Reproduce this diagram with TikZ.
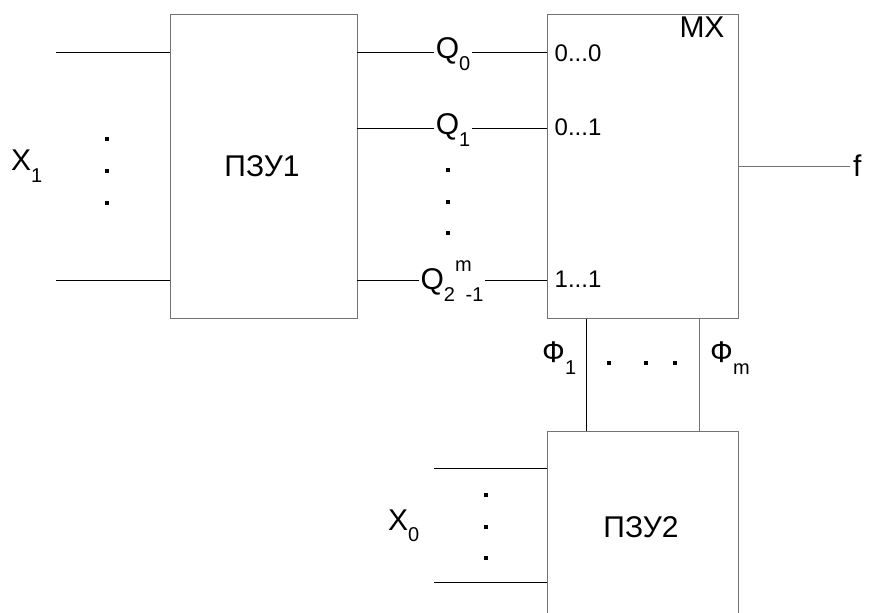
\documentclass[tikz,border=0pt]{standalone}
\usepackage{fontspec}
\setmainfont{Liberation Sans}
\newcommand{\bigf}{\fontsize{30}{32}\selectfont}
\newcommand{\midf}{\fontsize{24}{26}\selectfont}
\newcommand{\subf}{\fontsize{20}{22}\selectfont}
\newcommand{\sbs}[1]{\raisebox{-11.5pt}{\subf #1}}
\newcommand{\sps}[1]{\raisebox{18pt}{\subf #1}}
\begin{document}
\begin{tikzpicture}[x=1pt,y=-1pt,
  blockbox/.style={draw=black!55,line width=1pt,minimum width=#1,inner sep=0pt},
  wire/.style={draw=black,line width=1pt},
  lbl/.style={inner sep=1pt,font=\bigf},
  qlbl/.style={fill=white,inner sep=2pt,font=\bigf},
  dotmark/.style={fill=black,inner sep=0pt,minimum size=3.2pt}]
\useasboundingbox (0,0) rectangle (870,613);
\clip (0,0) rectangle (870,613);
% blocks
\node[blockbox=187pt,minimum height=304pt] (pz1) at (263.5,166) {};
\node[lbl] (pz1t) at (262,166) {ПЗУ1};
\node[blockbox=191pt,minimum height=304pt] (mx) at (642.5,166) {};
\node[blockbox=191pt,minimum height=200pt] (pz2) at (642.5,531) {};
\node[lbl] (pz2t) at (641,527) {ПЗУ2};
\node[lbl] (mxt) at (702,27) {MX};
% inputs of PZU1
\coordinate (a1) at (56,52);
\coordinate (a2) at (56,280);
\draw[wire] (a1) -- (a1 -| pz1.west);
\draw[wire] (a2) -- (a2 -| pz1.west);
\node[lbl,anchor=west] (x1) at (10,166) {X\sbs{1}};
\node[dotmark] (d1) at (107,139) {};
\node[dotmark] (d2) at (107,171) {};
\node[dotmark] (d3) at (107,203) {};
% Q lines
\coordinate (q0) at (357,52);
\coordinate (q1) at (357,128);
\coordinate (q2) at (357,280);
\draw[wire] (q0) -- (q0 -| mx.west);
\draw[wire] (q1) -- (q1 -| mx.west);
\draw[wire] (q2) -- (q2 -| mx.west);
\node[qlbl] (lq0) at (453,54) {Q\sbs{0}};
\node[qlbl] (lq1) at (453,130) {Q\sbs{1}};
\node[qlbl] (lq2) at (452,281) {Q\sbs{2}\sps{m}\hspace{-6pt}\sbs{-1}};
\node[dotmark] (m1) at (448,170) {};
\node[dotmark] (m2) at (448,202) {};
\node[dotmark] (m3) at (448,233) {};
% MX inner labels
\node[inner sep=0pt,font=\midf] (c0) at (578,53) {0...0};
\node[inner sep=0pt,font=\midf] (c1) at (578,127) {0...1};
\node[inner sep=0pt,font=\midf] (c2) at (578,279) {1...1};
% output
\coordinate (fo) at (850,166);
\draw[wire,draw=black!55] (mx.east |- fo) -- (fo);
\node[lbl,anchor=west] (fl) at (852,166) {f};
% Phi lines
\draw[wire] ([xshift=-56.5pt]mx.south) -- ([xshift=-56.5pt]mx.south |- pz2.north);
\draw[wire,draw=black!55] ([xshift=56.5pt]mx.south) -- ([xshift=56.5pt]mx.south |- pz2.north);
\node[lbl,anchor=west] (f1) at (541,358) {Ф\sbs{1}};
\node[lbl,anchor=west] (fm) at (709,358) {Ф\sbs{m}};
\node[dotmark] (p1) at (609,363) {};
\node[dotmark] (p2) at (646,363) {};
\node[dotmark] (p3) at (675,363) {};
% inputs of PZU2
\coordinate (b1) at (434,468);
\coordinate (b2) at (434,582);
\draw[wire] (b1) -- (b1 -| pz2.west);
\draw[wire] (b2) -- (b2 -| pz2.west);
\node[lbl,anchor=west] (x0) at (387,526) {X\sbs{0}};
\node[dotmark] (e1) at (486,495) {};
\node[dotmark] (e2) at (486,527) {};
\node[dotmark] (e3) at (486,558) {};
\end{tikzpicture}
\end{document}
